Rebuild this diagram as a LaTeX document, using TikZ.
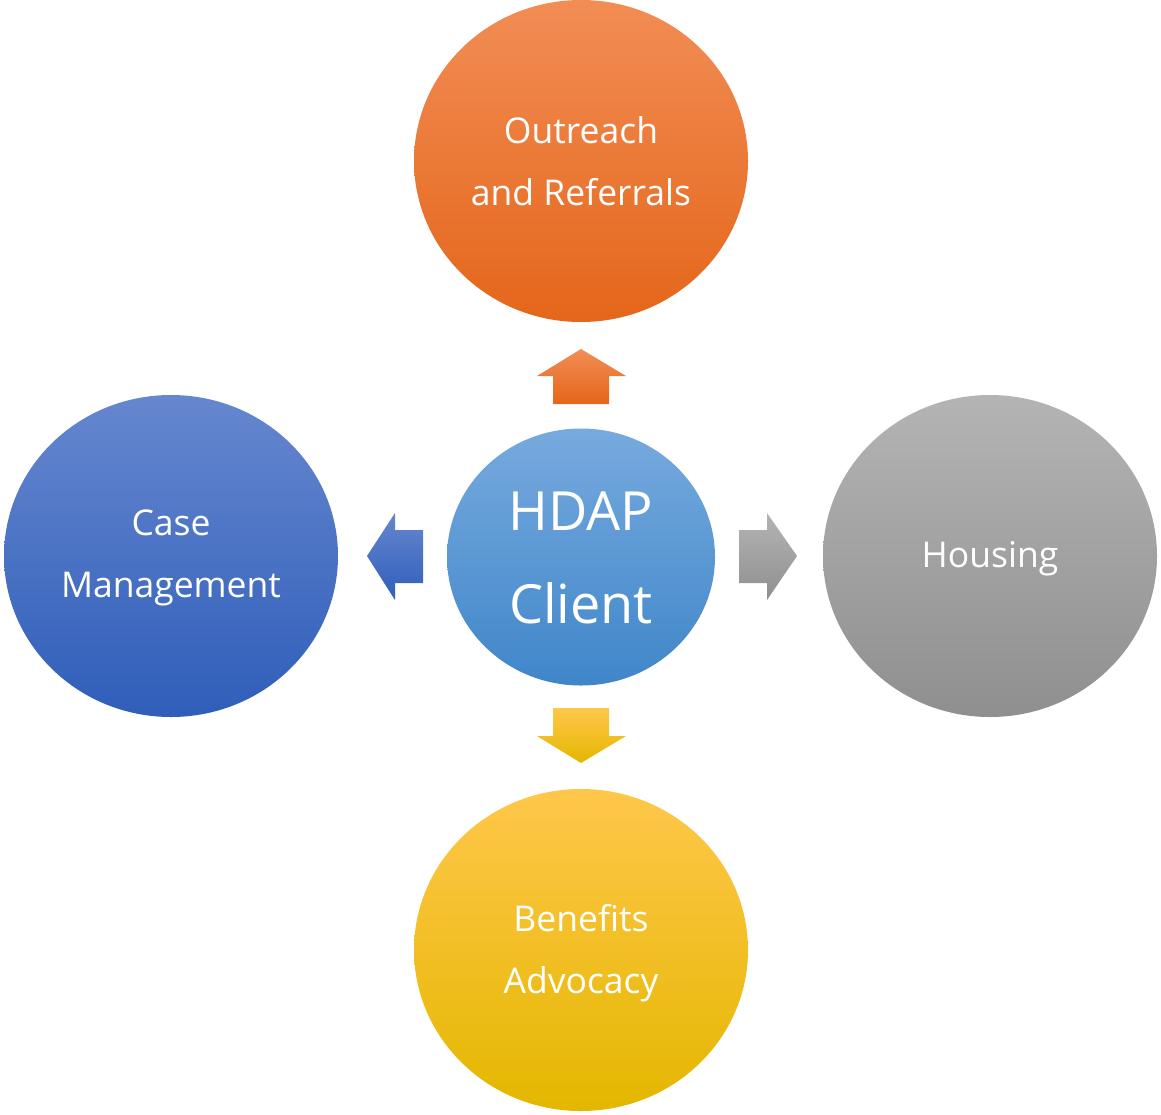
\documentclass[tikz,border=0pt]{standalone}
\usepackage{fontspec}
\setmainfont{Open Sans}
\usetikzlibrary{shapes.geometric}
\begin{document}
\begin{tikzpicture}[x=1pt,y=-1pt,
  bubble/.style={ellipse,inner sep=0pt},
  label/.style={text=white,align=center,font=\fontsize{35.5}{62}\selectfont},
  bigl/.style={text=white,align=center,font=\fontsize{54}{93}\selectfont},
  orfill/.style={top color=orTop,middle color=orMid,bottom color=orBot},
  blfill/.style={top color=blTop,middle color=blMid,bottom color=blBot},
  grfill/.style={top color=grTop,middle color=grMid,bottom color=grBot},
  yefill/.style={top color=yeTop,middle color=yeMid,bottom color=yeBot},
  cefill/.style={top color=ceTop,middle color=ceMid,bottom color=ceBot}]
\useasboundingbox (0,0) rectangle (1161,1114);

% colour ramps
\definecolor{orTop}{HTML}{F28D55}\definecolor{orMid}{HTML}{EF7A2E}\definecolor{orBot}{HTML}{E4661A}
\definecolor{blTop}{HTML}{6687CF}\definecolor{blMid}{HTML}{4472C6}\definecolor{blBot}{HTML}{2F5EB9}
\definecolor{grTop}{HTML}{B4B4B4}\definecolor{grMid}{HTML}{A3A3A3}\definecolor{grBot}{HTML}{8F8F8F}
\definecolor{yeTop}{HTML}{FFC74A}\definecolor{yeMid}{HTML}{FFC700}\definecolor{yeBot}{HTML}{E4B700}
\definecolor{ceTop}{HTML}{77AADE}\definecolor{ceMid}{HTML}{5A9CDB}\definecolor{ceBot}{HTML}{3F86C9}

% outer circles
\node[bubble,minimum width=334pt,minimum height=322pt,orfill] (outreach) at (581,161) {};
\node[bubble,minimum width=334pt,minimum height=322pt,blfill] (case) at (171,556) {};
\node[bubble,minimum width=334pt,minimum height=322pt,grfill] (housing) at (990,556) {};
\node[bubble,minimum width=334pt,minimum height=322pt,yefill] (benefits) at (581,950) {};
% centre
\node[bubble,minimum width=268pt,minimum height=257pt,cefill] (client) at (581,557) {};

% labels
\node[label] (tOut) at (outreach.center) {Outreach\\and Referrals};
\node[label] (tCase) at ([yshift=-2pt]case.center) {Case\\Management};
\node[label] (tHou) at ([yshift=-3pt]housing.center) {Housing};
\node[label] (tBen) at ([yshift=-3pt]benefits.center) {Benefits\\Advocacy};
\node[bigl] (tCli) at ([yshift=-1pt]client.center) {HDAP\\Client};

% block arrows
\shade[orfill]
  (553,404) -- (553,376) -- (537,376) -- (581,349) -- (626,376) -- (609,376) -- (609,404) -- cycle;
\shade[blfill]
  (423,530) -- (395,530) -- (395,513) -- (367,556) -- (395,600) -- (395,583) -- (423,583) -- cycle;
\shade[grfill]
  (739,530) -- (767,530) -- (767,513) -- (797,556) -- (767,600) -- (767,583) -- (739,583) -- cycle;
\shade[yefill]
  (553,708) -- (553,736) -- (537,736) -- (581,763) -- (626,736) -- (609,736) -- (609,708) -- cycle;
\end{tikzpicture}
\end{document}
